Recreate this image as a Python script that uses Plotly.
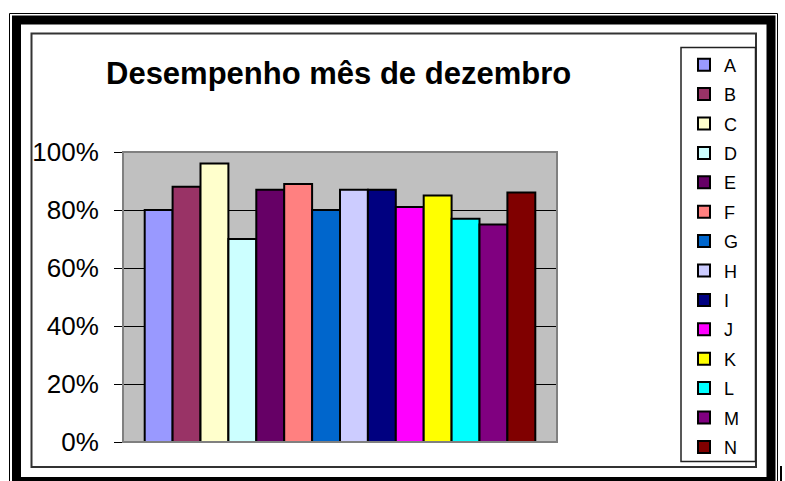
import plotly.graph_objects as go

# ---- data ----
series = ["A", "B", "C", "D", "E", "F", "G", "H", "I", "J", "K", "L", "M", "N"]
values = [0.80, 0.88, 0.96, 0.70, 0.87, 0.89, 0.80, 0.87, 0.87, 0.81, 0.85, 0.77, 0.75, 0.86]
colors = ["#9999FF", "#993366", "#FFFFCC", "#CCFFFF", "#660066", "#FF8080", "#0066CC",
          "#CCCCFF", "#000080", "#FF00FF", "#FFFF00", "#00FFFF", "#800080", "#800000"]
category = ["dezembro"]
tick_vals = [0, 0.2, 0.4, 0.6, 0.8, 1.0]
tick_text = ["0%", "20%", "40%", "60%", "80%", "100%"]
title_text = "Desempenho mês de dezembro"

W, H = 785, 481
L, R, T, B = 123, 557, 152, 442  # plot area in px

def px(x):
    return (x - L) / (R - L)

def py(y):
    return (B - y) / (B - T)

FONT = "Liberation Sans, Arial, sans-serif"

fig = go.Figure()
for name, v, c in zip(series, values, colors):
    fig.add_trace(go.Bar(
        x=category, y=[v], name=name, legendgroup=name,
        marker=dict(color=c, line=dict(color="black", width=2)),
        hoverinfo="skip",
    ))

shapes = [
    # outer thin frame
    dict(type="rect", xref="paper", yref="paper", x0=px(9.5), x1=px(777.5), y0=py(13.5), y1=py(495),
         line=dict(color="black", width=1), layer="above"),
    # thick frame
    dict(type="rect", xref="paper", yref="paper", x0=px(16.5), x1=px(771), y0=py(20), y1=py(481.5),
         line=dict(color="black", width=9), layer="above"),
    # chart area border
    dict(type="rect", xref="paper", yref="paper", x0=px(31.5), x1=px(756), y0=py(33.5), y1=py(467),
         line=dict(color="#333333", width=2), layer="above"),
    # plot area border
    dict(type="rect", xref="paper", yref="paper", x0=0, x1=1, y0=0, y1=1,
         line=dict(color="#808080", width=2), layer="above"),
    # legend box
    dict(type="rect", xref="paper", yref="paper", x0=px(681), x1=px(755.5), y0=py(47.5), y1=py(461.5),
         line=dict(color="#222222", width=1.5), layer="above"),
    # small artifact at bottom right
    dict(type="line", xref="paper", yref="paper", x0=px(781), x1=px(781), y0=py(466), y1=py(481),
         line=dict(color="black", width=2), layer="above"),
]

fig.update_layout(
    width=W, height=H, autosize=False,
    margin=dict(l=L, r=W - R, t=T, b=H - B, pad=0),
    paper_bgcolor="white", plot_bgcolor="#C0C0C0",
    barmode="group", bargap=0.1, bargroupgap=0,
    showlegend=True,
    legend=dict(
        x=px(684), y=py(46.5), xanchor="left", yanchor="top",
        bgcolor="rgba(0,0,0,0)", borderwidth=0,
        font=dict(family=FONT, size=18, color="black"),
        tracegroupgap=3.0, traceorder="grouped", maxheight=460,
    ),
    font=dict(family=FONT, color="black"),
    xaxis=dict(showticklabels=False, showgrid=False, zeroline=False, showline=False,
               ticks="", fixedrange=True),
    yaxis=dict(range=[0, 1], tickvals=tick_vals, ticktext=tick_text,
               showgrid=True, gridcolor="black", gridwidth=1, zeroline=False, showline=False,
               ticks="outside", ticklen=8, tickwidth=1, tickcolor="black",
               ticklabelstandoff=10,
               tickfont=dict(family=FONT, size=26, color="black"), fixedrange=True),
    shapes=shapes,
    annotations=[dict(text="<b>" + title_text + "</b>", xref="paper", yref="paper",
                      x=px(338), y=py(73), xanchor="center", yanchor="middle",
                      showarrow=False, font=dict(family=FONT, size=31, color="black"))],
)

fig.write_html("out.html", config={"displayModeBar": False, "staticPlot": True})
